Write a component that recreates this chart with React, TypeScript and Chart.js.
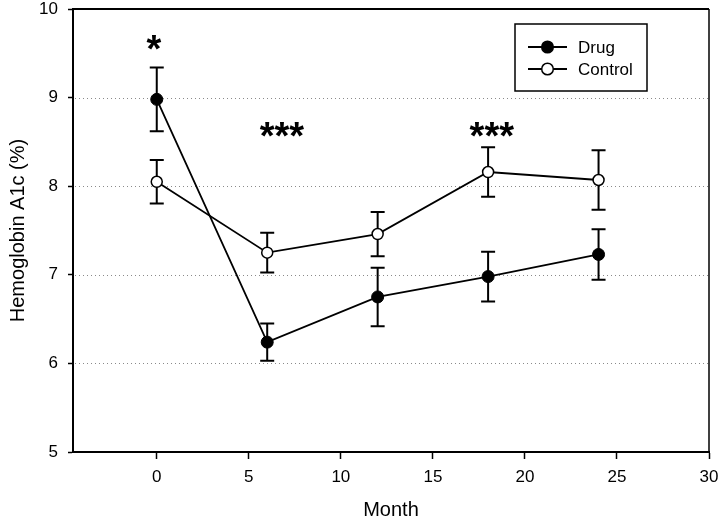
import React, { useEffect, useRef } from "react";
import { Chart, registerables } from "chart.js";

Chart.register(...registerables);

const months = [0, 6, 12, 18, 24];
const drugMean = [8.98, 6.24, 6.75, 6.98, 7.23];
const drugErr = [0.36, 0.21, 0.33, 0.28, 0.285];
const controlMean = [8.05, 7.25, 7.46, 8.16, 8.07];
const controlErr = [0.245, 0.225, 0.25, 0.28, 0.335];
const xTickValues = [0, 5, 10, 15, 20, 25, 30];
const yTickValues = [5, 6, 7, 8, 9, 10];
const gridValues = [6, 7, 8, 9];
const sigLabels = ["*", "***", "***"];
const sigMonth = [-0.15, 6.8, 18.2];
const sigLevel = [9.65, 8.67, 8.67];

const FONT = "'Liberation Sans', Arial, Helvetica, sans-serif";

const errorBarPlugin = {
  id: "errorBars",
  beforeDatasetsDraw(chart: any) {
    const { ctx, chartArea } = chart;
    const xs = chart.scales.x;
    const ys = chart.scales.y;
    ctx.save();
    // dotted grid
    ctx.strokeStyle = "#8a8a8a";
    ctx.lineWidth = 1;
    ctx.setLineDash([1, 3]);
    gridValues.forEach((v) => {
      const y = Math.round(ys.getPixelForValue(v)) + 0.5;
      ctx.beginPath();
      ctx.moveTo(chartArea.left + 2, y);
      ctx.lineTo(chartArea.right - 1, y);
      ctx.stroke();
    });
    ctx.setLineDash([]);
    // frame top and right
    ctx.strokeStyle = "#000";
    ctx.lineWidth = 2;
    ctx.beginPath();
    ctx.moveTo(chartArea.left, chartArea.top);
    ctx.lineTo(chartArea.right, chartArea.top);
    ctx.stroke();
    ctx.lineWidth = 1.5;
    ctx.beginPath();
    ctx.moveTo(chartArea.right, chartArea.top);
    ctx.lineTo(chartArea.right, chartArea.bottom);
    ctx.stroke();
    // error bars
    const series = [
      { mean: drugMean, err: drugErr },
      { mean: controlMean, err: controlErr },
    ];
    ctx.lineWidth = 2;
    series.forEach((s) => {
      months.forEach((m, i) => {
        const x = xs.getPixelForValue(m);
        const yt = ys.getPixelForValue(s.mean[i] + s.err[i]);
        const yb = ys.getPixelForValue(s.mean[i] - s.err[i]);
        ctx.beginPath();
        ctx.moveTo(x, yt);
        ctx.lineTo(x, yb);
        ctx.moveTo(x - 7, yt);
        ctx.lineTo(x + 7, yt);
        ctx.moveTo(x - 7, yb);
        ctx.lineTo(x + 7, yb);
        ctx.stroke();
      });
    });
    ctx.restore();
  },
  afterDraw(chart: any) {
    const { ctx } = chart;
    const xs = chart.scales.x;
    const ys = chart.scales.y;
    ctx.save();
    // significance asterisks
    const fs = 38;
    ctx.font = `bold ${fs}px ${FONT}`;
    ctx.fillStyle = "#000";
    ctx.textAlign = "center";
    ctx.textBaseline = "alphabetic";
    sigLabels.forEach((t, i) => {
      const x = xs.getPixelForValue(sigMonth[i]);
      const y = ys.getPixelForValue(sigLevel[i]) + fs * 0.575;
      ctx.fillText(t, x, y);
    });
    // legend
    const bx = 515, by = 24, bw = 132, bh = 67;
    ctx.strokeStyle = "#000";
    ctx.lineWidth = 1.5;
    ctx.strokeRect(bx, by, bw, bh);
    const rows = [
      { label: chart.data.datasets[0].label, fill: "#000", y: 47 },
      { label: chart.data.datasets[1].label, fill: "#fff", y: 69 },
    ];
    ctx.font = `17px ${FONT}`;
    ctx.textAlign = "left";
    ctx.textBaseline = "middle";
    rows.forEach((r) => {
      ctx.lineWidth = 1.8;
      ctx.beginPath();
      ctx.moveTo(528, r.y);
      ctx.lineTo(567, r.y);
      ctx.stroke();
      ctx.beginPath();
      ctx.arc(547.5, r.y, 5.8, 0, Math.PI * 2);
      ctx.fillStyle = r.fill;
      ctx.fill();
      ctx.lineWidth = 1.5;
      ctx.stroke();
      ctx.fillStyle = "#000";
      ctx.fillText(r.label, 578, r.y + 1);
    });
    ctx.restore();
  },
};

export default function App() {
  const ref = useRef<HTMLCanvasElement | null>(null);
  useEffect(() => {
    if (!ref.current) return;
    const chart = new Chart(ref.current, {
      type: "line",
      data: {
        datasets: [
          {
            label: "Drug",
            data: months.map((m, i) => ({ x: m, y: drugMean[i] })),
            borderColor: "#000",
            borderWidth: 1.8,
            backgroundColor: "#000",
            pointBackgroundColor: "#000",
            pointBorderColor: "#000",
            pointBorderWidth: 1,
            pointRadius: 6,
            tension: 0,
          },
          {
            label: "Control",
            data: months.map((m, i) => ({ x: m, y: controlMean[i] })),
            borderColor: "#000",
            borderWidth: 1.8,
            backgroundColor: "#fff",
            pointBackgroundColor: "#fff",
            pointBorderColor: "#000",
            pointBorderWidth: 1.5,
            pointRadius: 5.5,
            tension: 0,
          },
        ],
      },
      options: {
        animation: false,
        responsive: false,
        layout: { padding: { left: 0, right: 11, top: 9, bottom: 0 } },
        plugins: {
          legend: { display: false },
          tooltip: { enabled: false },
        },
        scales: {
          x: {
            type: "linear",
            min: -4.55,
            max: 30,
            afterBuildTicks: (scale: any) => {
              scale.ticks = xTickValues.map((v) => ({ value: v }));
            },
            afterFit: (scale: any) => {
              scale.height = 73;
              scale.paddingLeft = 0;
              scale.paddingRight = 0;
            },
            grid: {
              drawOnChartArea: false,
              drawTicks: true,
              tickLength: 7,
              tickColor: "#000",
              tickWidth: 1.5,
            },
            border: { display: true, color: "#000", width: 2 },
            ticks: {
              color: "#000",
              padding: 8,
              maxRotation: 0,
              font: { family: FONT, size: 17 },
            },
            title: {
              display: true,
              text: "Month",
              color: "#000",
              padding: 3,
              font: { family: FONT, size: 20 },
            },
          },
          y: {
            type: "linear",
            min: 5,
            max: 10,
            afterBuildTicks: (scale: any) => {
              scale.ticks = yTickValues.map((v) => ({ value: v }));
            },
            afterFit: (scale: any) => {
              scale.width = 73;
              scale.paddingTop = 0;
              scale.paddingBottom = 0;
            },
            grid: {
              drawOnChartArea: false,
              drawTicks: true,
              tickLength: 5,
              tickColor: "#000",
              tickWidth: 1.5,
            },
            border: { display: true, color: "#000", width: 2 },
            ticks: {
              color: "#000",
              padding: 10,
              font: { family: FONT, size: 17 },
            },
            title: {
              display: true,
              text: "Hemoglobin A1c (%)",
              color: "#000",
              padding: 6,
              font: { family: FONT, size: 20 },
            },
          },
        },
      },
      plugins: [errorBarPlugin],
    } as any);
    return () => chart.destroy();
  }, []);
  return (
    <div style={{ position: "fixed", left: 0, top: 0, width: 720, height: 525, background: "#fff" }}>
      <canvas ref={ref} width={720} height={525} style={{ display: "block" }} />
    </div>
  );
}
